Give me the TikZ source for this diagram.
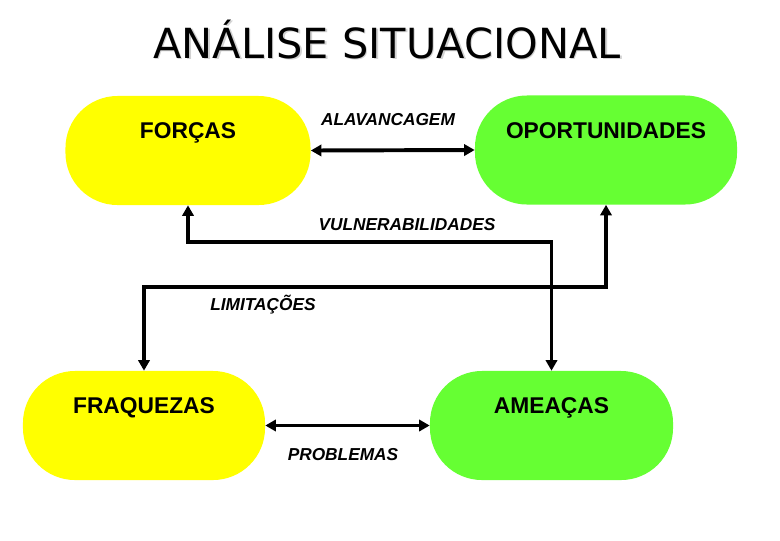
\documentclass[tikz,border=0pt]{standalone}
\usepackage{fontspec}
\setmainfont{Liberation Sans}
\newfontfamily\titlefont{DejaVu Sans}
\usepackage{tikz}
\usetikzlibrary{arrows.meta, positioning}
\definecolor{swotyellow}{RGB}{255,255,0}
\definecolor{swotgreen}{RGB}{102,255,51}

\begin{document}
\begin{tikzpicture}[x=0.025cm, y=-0.025cm,
        quad/.style={rectangle, rounded corners=1.3cm, minimum height=2.725cm, inner sep=0pt,
            font=\fontsize{16.2}{20}\selectfont\bfseries, text height=11.6pt, text depth=1cm},
        link/.style={line width=2.8pt, {Triangle[length=7.5pt,width=8pt]}-{Triangle[length=7.5pt,width=8pt]}},
        tag/.style={anchor=base, font=\fontsize{12.3}{15}\selectfont\bfseries\itshape}]
        \useasboundingbox (0,0) rectangle (780,540);
        \node[anchor=base, gray!35, font=\titlefont\fontsize{29.5}{34}\selectfont] (titleshadow) at (388.5,59.5) {ANÁLISE SITUACIONAL};
        \node[anchor=base, font=\titlefont\fontsize{29.5}{34}\selectfont] (title) at (387,58) {ANÁLISE SITUACIONAL};
        \node[quad, fill=swotyellow, minimum width=6.125cm] (forcas) at (188,150.5) {FORÇAS};
        \node[quad, fill=swotgreen, minimum width=6.55cm] (oport) at (606,150) {OPORTUNIDADES};
        \node[quad, fill=swotyellow, minimum width=6.05cm] (fraq) at (144,425.5) {FRAQUEZAS};
        \node[quad, fill=swotgreen, minimum width=6.075cm] (ameacas) at (551.5,425.5) {AMEAÇAS};
        \coordinate (vuln) at (400,242);
        \coordinate (limit) at (400,287);
        \draw[link] (forcas.east) -- (oport.west);
        \draw[link] (fraq.east) -- (ameacas.west);
        \draw[link] (forcas.south) |- (vuln) -| (ameacas.north);
        \draw[link] (oport.south) |- (limit) -| (fraq.north);
        \node[tag] (alav) at (388,125.5) {ALAVANCAGEM};
        \node[tag] (vulntag) at (407,230) {VULNERABILIDADES};
        \node[tag] (limittag) at (263,310.5) {LIMITAÇÕES};
        \node[tag] (problemas) at (343,460) {PROBLEMAS};
    \end{tikzpicture}
\end{document}
